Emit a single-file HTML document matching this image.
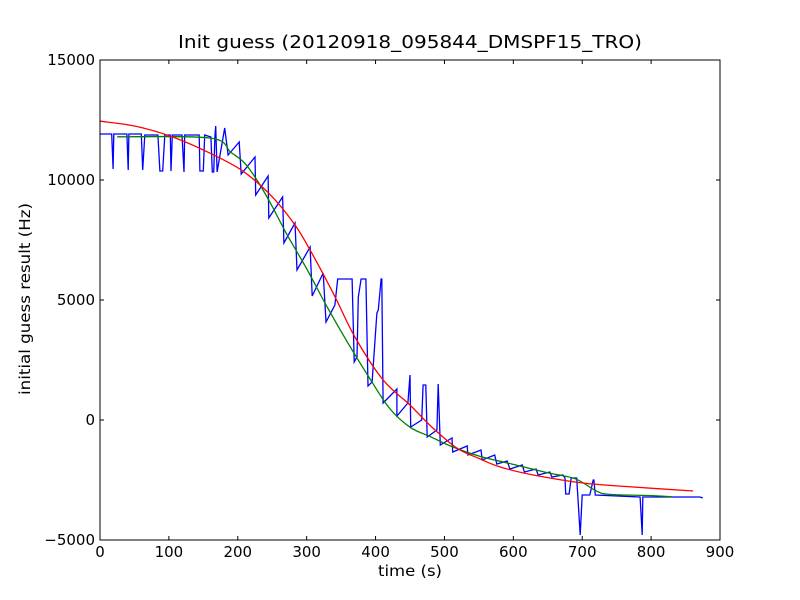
<!DOCTYPE html>
<html><head><meta charset="utf-8"><style>
body{margin:0;background:#fff;}
svg{display:block;font-family:"DejaVu Sans","Liberation Sans",sans-serif;}
</style></head><body>
<svg id="chart" width="800" height="600" xmlns="http://www.w3.org/2000/svg">
<rect width="800" height="600" fill="#fff"/>
<text x="410" y="48" text-anchor="middle" font-size="18" textLength="464" lengthAdjust="spacingAndGlyphs">Init guess (20120918_095844_DMSPF15_TRO)</text>
<g id="series"></g>
<g id="axes"></g>
<text x="410" y="576" text-anchor="middle" font-size="15" textLength="64" lengthAdjust="spacingAndGlyphs">time (s)</text>
<text transform="translate(30,299) rotate(-90)" text-anchor="middle" font-size="15" textLength="192" lengthAdjust="spacingAndGlyphs">initial guess result (Hz)</text>
</svg>
<script>
const xTicks=[0,100,200,300,400,500,600,700,800,900];
const yTicks=[-5000,0,5000,10000,15000];
const blueT=[0,17,19,20,39,41,42,60,62,65,84,87,91,94,102,103,105,119,122,123,144,145,150,152,161,163,165,167,168,170,181,186,202,205,225,226,244,245,265,267,283,286,305,308,324,328,341,345,366,369,373,375,379,386,389,395,402,404,408,409,411,431,431,447,450,451,467,469,473,475,489,491,494,511,512,533,534,553,555,573,576,591,595,613,616,633,636,653,656,672,675,676,681,684,692,697,700,711,716,717,719,784,787,788,871,875];
const blueV=[11917,11917,10458,11917,11917,10417,11917,11917,10417,11875,11875,10375,10375,11875,11875,10375,11875,11875,10333,11875,11875,10375,10375,11875,11792,10333,10333,11875,12250,10333,12167,11042,11583,10250,10958,9375,10167,8417,9292,7375,8208,6250,7208,5167,6125,4083,4792,5875,5875,2417,2625,5125,5875,5875,1417,1583,4458,4583,5875,5875,708,1292,167,708,1875,-292,0,1458,1458,-708,-417,1500,-1042,-750,-1333,-1083,-1458,-1250,-1667,-1458,-1833,-1708,-2042,-1875,-2167,-2042,-2292,-2167,-2375,-2292,-2417,-3083,-3083,-2417,-2417,-4792,-3125,-3125,-2500,-2500,-3125,-3208,-4792,-3208,-3208,-3250];
const greenT=[25,160,190,210,230,250,270,300,330,360,390,420,450,480,510,550,600,650,690,720,740,800,830];
const greenV=[11800,11750,11150,10700,9900,8900,7800,6300,4700,3200,1800,500,-300,-700,-1100,-1500,-1850,-2200,-2450,-2950,-3100,-3150,-3200];
const redT=[0,50,100,150,206,250,283,305,340,370,411,450,480,518,550,581,629,701,774,861];
const redV=[12450,12250,11850,11250,10400,9300,8125,7080,5200,3460,1670,625,-250,-1170,-1600,-1960,-2290,-2625,-2790,-2960];
const L=100,R=720,T=60,B=540;
const sx=t=>L+(t-0)/(900-0)*(R-L);
const sy=v=>B-(v+5000)/20000*(B-T);
const NS="http://www.w3.org/2000/svg";
const ser=document.getElementById('series');
function line(ts,vs,color,name){
  const p=document.createElementNS(NS,'polyline');
  p.setAttribute('points',ts.map((t,i)=>sx(t).toFixed(1)+','+sy(vs[i]).toFixed(1)).join(' '));
  p.setAttribute('fill','none');p.setAttribute('stroke',color);p.setAttribute('stroke-width','1.3');
  
  
  ser.appendChild(p);
}
function smooth(ts,vs,color,name){
  const P=ts.map((t,i)=>[sx(t),sy(vs[i])]);
  let d='M'+P[0][0].toFixed(1)+','+P[0][1].toFixed(1);
  for(let i=0;i<P.length-1;i++){
    const p0=P[Math.max(i-1,0)],p1=P[i],p2=P[i+1],p3=P[Math.min(i+2,P.length-1)];
    const c1=[p1[0]+(p2[0]-p0[0])/6,p1[1]+(p2[1]-p0[1])/6];
    const c2=[p2[0]-(p3[0]-p1[0])/6,p2[1]-(p3[1]-p1[1])/6];
    d+=' C'+c1.map(n=>n.toFixed(1)).join(',')+' '+c2.map(n=>n.toFixed(1)).join(',')+' '+p2.map(n=>n.toFixed(1)).join(',');
  }
  const p=document.createElementNS(NS,'path');
  p.setAttribute('d',d);
  p.setAttribute('fill','none');p.setAttribute('stroke',color);p.setAttribute('stroke-width','1.3');
  
  
  ser.appendChild(p);
}
line(blueT,blueV,'#0000ff','blue-series-line');
smooth(greenT,greenV,'#008000','green-series-line');
smooth(redT,redV,'#ff0000','red-fit-line');
const ax=document.getElementById('axes');
const fr=document.createElementNS(NS,'rect');
fr.setAttribute('x',L);fr.setAttribute('y',T);fr.setAttribute('width',R-L);fr.setAttribute('height',B-T);
fr.setAttribute('fill','none');fr.setAttribute('stroke','#000');fr.setAttribute('stroke-width','1');


ax.appendChild(fr);
function seg(x1,y1,x2,y2){const l=document.createElementNS(NS,'line');l.setAttribute('x1',x1);l.setAttribute('y1',y1);l.setAttribute('x2',x2);l.setAttribute('y2',y2);l.setAttribute('stroke','#000');


ax.appendChild(l);}
xTicks.forEach(t=>{const x=sx(t);seg(x,B,x,B-4);seg(x,T,x,T+4);
  const tx=document.createElementNS(NS,'text');tx.setAttribute('x',x);tx.setAttribute('y',B+17);tx.setAttribute('text-anchor','middle');tx.setAttribute('font-size','15');tx.textContent=t;
  
  
  ax.appendChild(tx);});
yTicks.forEach(v=>{const y=sy(v);seg(L,y,L+4,y);seg(R,y,R-4,y);
  const tx=document.createElementNS(NS,'text');tx.setAttribute('x',L-5);tx.setAttribute('y',y+5);tx.setAttribute('text-anchor','end');tx.setAttribute('font-size','15');tx.textContent=v<0?'\u2212'+Math.abs(v):v;
  
  
  ax.appendChild(tx);});
</script>
</body></html>
